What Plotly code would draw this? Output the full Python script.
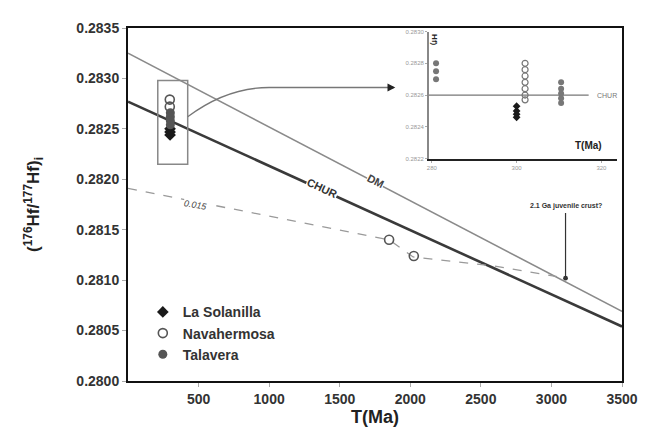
import plotly.graph_objects as go

# ---- data ----
dm_x = [0, 3500]
dm_y = [0.28325, 0.28069]
chur_x = [0, 3500]
chur_y = [0.28277, 0.28054]
trend_x = [0, 1850, 2020, 2600, 3100]
trend_y = [0.28191, 0.28140, 0.28123, 0.28114, 0.28102]

sol_x = [298, 298, 298]
sol_y = [0.28250, 0.28247, 0.28244]
nav_x = [296, 296, 1850, 2025]
nav_y = [0.28279, 0.28272, 0.28140, 0.28124]
tal_x = [300, 300, 300, 300]
tal_y = [0.28266, 0.28262, 0.28258, 0.28254]

# inset data
in_sol_x = [300, 300, 300, 300]
in_sol_y = [0.28253, 0.28250, 0.28248, 0.28246]
in_nav_x = [302, 302, 302, 302, 302, 302, 302]
in_nav_y = [0.28280, 0.28276, 0.28272, 0.28268, 0.28264, 0.28260, 0.28257]
in_tal_x = [310.5, 310.5, 310.5, 310.5, 310.5, 281, 281, 281]
in_tal_y = [0.28268, 0.28264, 0.28261, 0.28258, 0.28255, 0.28280, 0.28275, 0.28270]
in_chur_x = [279.3, 317]
in_chur_y = [0.2826, 0.2826]

x_ticks = [500, 1000, 1500, 2000, 2500, 3000, 3500]
y_ticks = [0.2800, 0.2805, 0.2810, 0.2815, 0.2820, 0.2825, 0.2830, 0.2835]
y_tick_text = ["0.2800", "0.2805", "0.2810", "0.2815", "0.2820", "0.2825", "0.2830", "0.2835"]
in_x_ticks = [280, 300, 320]
in_y_ticks = [0.2822, 0.2824, 0.2826, 0.2828, 0.2830]
in_y_text = ["0.2822", "0.2824", "0.2826", "0.2828", "0.2830"]

FONT = "Liberation Sans"
fig = go.Figure()

fig.add_trace(go.Scatter(x=dm_x, y=dm_y, mode="lines", line=dict(color="#8a8a8a", width=1.6), showlegend=False))
fig.add_trace(go.Scatter(x=chur_x, y=chur_y, mode="lines", line=dict(color="#3a3a3a", width=2.6), showlegend=False))
fig.add_trace(go.Scatter(x=trend_x, y=trend_y, mode="lines", line=dict(color="#9a9a9a", width=1.3, dash="dash"), showlegend=False))

fig.add_trace(go.Scatter(x=sol_x, y=sol_y, mode="markers", name="La Solanilla",
                         marker=dict(symbol="diamond", size=9, color="#1a1a1a")))
fig.add_trace(go.Scatter(x=nav_x, y=nav_y, mode="markers", name="Navahermosa",
                         marker=dict(symbol="circle-open", size=9, color="#555", line=dict(width=1.6))))
fig.add_trace(go.Scatter(x=tal_x, y=tal_y, mode="markers", name="Talavera",
                         marker=dict(symbol="circle", size=9, color="#555")))

# inset traces
fig.add_trace(go.Scatter(x=in_chur_x, y=in_chur_y, mode="lines", xaxis="x2", yaxis="y2",
                         line=dict(color="#777", width=1.2), showlegend=False))
fig.add_trace(go.Scatter(x=in_sol_x, y=in_sol_y, mode="markers", xaxis="x2", yaxis="y2", showlegend=False,
                         marker=dict(symbol="diamond", size=6, color="#1a1a1a")))
fig.add_trace(go.Scatter(x=in_nav_x, y=in_nav_y, mode="markers", xaxis="x2", yaxis="y2", showlegend=False,
                         marker=dict(symbol="circle-open", size=6, color="#777", line=dict(width=1.2))))
fig.add_trace(go.Scatter(x=in_tal_x, y=in_tal_y, mode="markers", xaxis="x2", yaxis="y2", showlegend=False,
                         marker=dict(symbol="circle", size=6, color="#777")))

axis_common = dict(showline=True, linecolor="#111", linewidth=2, mirror=True, ticks="outside",
                   ticklen=4, tickcolor="#aaa", showgrid=False, zeroline=False,
                   tickfont=dict(family=FONT, size=14, color="#333", weight="bold"))

fig.update_layout(
    width=642, height=429,
    margin=dict(l=120, r=23, t=14, b=56),
    paper_bgcolor="white", plot_bgcolor="white",
    xaxis=dict(range=[0, 3500], tickvals=x_ticks, domain=[0, 1],
               title=dict(text="T(Ma)", font=dict(family=FONT, size=18, color="#222", weight="bold"), standoff=4),
               **axis_common),
    yaxis=dict(range=[0.2800, 0.2835], tickvals=y_ticks, ticktext=y_tick_text,
               title=dict(text="(<sup>176</sup>Hf/<sup>177</sup>Hf)<sub>i</sub>",
                          font=dict(family=FONT, size=17, color="#222", weight="bold"), standoff=32),
               **axis_common),
    xaxis2=dict(domain=[0.609, 0.99], anchor="y2", range=[279.3, 323.7], tickvals=in_x_ticks,
                showline=True, linecolor="#222", linewidth=2, ticks="outside", ticklen=2, tickcolor="#aaa",
                showgrid=False, zeroline=False, tickfont=dict(family=FONT, size=6, color="#999")),
    yaxis2=dict(domain=[0.63, 0.99], anchor="x2", range=[0.2822, 0.2830], tickvals=in_y_ticks, ticktext=in_y_text,
                showline=True, linecolor="#888", linewidth=1.5, ticks="outside", ticklen=2, tickcolor="#aaa",
                showgrid=False, zeroline=False, tickfont=dict(family=FONT, size=6, color="#999")),
    legend=dict(x=0.03, y=0.24, xanchor="left", yanchor="top", bgcolor="rgba(0,0,0,0)",
                font=dict(family=FONT, size=14, color="#333", weight="bold"), tracegroupgap=0, itemwidth=30),
    showlegend=True,
)

# box around young samples and connector to inset
fig.add_shape(type="rect", xref="x", yref="y", x0=211, x1=423, y0=0.28215, y1=0.28298,
              line=dict(color="#888", width=1.5))
fig.add_shape(type="path", xref="x", yref="y",
              path="M 423,0.28262 Q 700,0.28291 1000,0.28291 L 1880,0.28291",
              line=dict(color="#777", width=1.3))
fig.add_annotation(x=1894, y=0.28291, ax=1850, ay=0.28291, axref="x", ayref="y", xref="x", yref="y",
                   text="", showarrow=True, arrowhead=2, arrowsize=1.2, arrowwidth=1.3, arrowcolor="#222")

# line labels
fig.add_annotation(x=1373, y=0.28191, text="CHUR", showarrow=False, textangle=25, bgcolor="white", borderpad=0,
                   font=dict(family=FONT, size=11, color="#333", weight="bold"))
fig.add_annotation(x=1754, y=0.28198, text="DM", showarrow=False, textangle=27, bgcolor="white", borderpad=0,
                   font=dict(family=FONT, size=11, color="#444", weight="bold"))
fig.add_annotation(x=479, y=0.28175, text="0.015", showarrow=False, textangle=10, bgcolor="white", borderpad=0,
                   font=dict(family=FONT, size=9, color="#444", style="italic"))

# 2.1 Ga juvenile crust annotation
fig.add_annotation(x=3100, y=0.28102, ax=3100, ay=0.28168, axref="x", ayref="y", xref="x", yref="y",
                   text="", showarrow=True, arrowhead=6, arrowsize=1, arrowwidth=1.2, arrowcolor="#333")
fig.add_annotation(x=3100, y=0.28168, text="2.1 Ga juvenile crust?", showarrow=False, yanchor="bottom",
                   font=dict(family=FONT, size=7, color="#333", weight="bold"))

# inset labels
fig.add_annotation(x=318.5, y=0.2826, xref="x2", yref="y2", text="CHUR", showarrow=False, xanchor="left",
                   font=dict(family=FONT, size=7, color="#777"))
fig.add_annotation(x=317, y=0.28228, xref="x2", yref="y2", text="T(Ma)", showarrow=False,
                   font=dict(family=FONT, size=10, color="#222", weight="bold"))
fig.add_annotation(x=280.6, y=0.28295, xref="x2", yref="y2", text="Hf)", showarrow=False, textangle=90,
                   font=dict(family=FONT, size=8, color="#222", weight="bold"))

fig.write_html("out.html")
